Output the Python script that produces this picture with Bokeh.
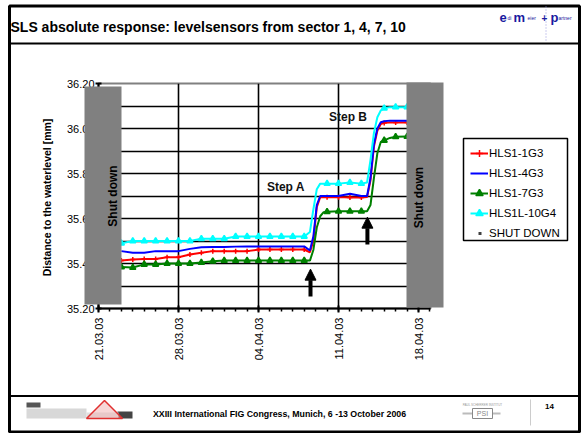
import math
from bokeh.plotting import figure
from bokeh.models import (FixedTicker, Label, Legend, LegendItem, Arrow, NormalHead, Range1d)
from bokeh.embed import file_html
from bokeh.resources import INLINE

# ---------------- data (days since 21.03.03) ----------------
days = [2, 3, 4, 5, 6, 7, 8, 9, 10, 11, 12, 13, 14, 15, 16, 17, 18,
        18.5, 18.8, 19.1, 19.4, 19.7, 20, 21, 22, 23,
        23.5, 23.8, 24.1, 24.4, 24.7, 25, 25.5, 26, 27]

hls1_1g3 = [35.413, 35.418, 35.420, 35.420, 35.428, 35.428, 35.440, 35.448, 35.455, 35.455,
            35.455, 35.455, 35.462, 35.462, 35.462, 35.462, 35.462,
            35.450, 35.500, 35.650, 35.695, 35.695, 35.695, 35.695, 35.693, 35.693,
            35.695, 35.770, 35.920, 35.990, 36.020, 36.025, 36.027, 36.027, 36.027]

hls1_4g3 = [35.455, 35.448, 35.448, 35.455, 35.455, 35.455, 35.465, 35.472, 35.473, 35.473,
            35.475, 35.476, 35.476, 35.476, 35.476, 35.476, 35.476,
            35.458, 35.520, 35.660, 35.700, 35.700, 35.700, 35.700, 35.710, 35.700,
            35.700, 35.780, 35.930, 36.000, 36.028, 36.032, 36.035, 36.035, 36.035]

hls1_7g3 = [35.384, 35.382, 35.396, 35.396, 35.400, 35.400, 35.400, 35.404, 35.410, 35.413,
            35.413, 35.413, 35.413, 35.413, 35.413, 35.413, 35.413,
            35.413, 35.460, 35.560, 35.610, 35.628, 35.630, 35.632, 35.632, 35.632,
            35.632, 35.660, 35.780, 35.890, 35.940, 35.947, 35.958, 35.963, 35.964]

hls1l_10g4 = [35.490, 35.500, 35.500, 35.500, 35.500, 35.500, 35.500, 35.510, 35.510, 35.510,
              35.520, 35.520, 35.520, 35.520, 35.520, 35.520, 35.520,
              35.540, 35.640, 35.730, 35.755, 35.755, 35.755, 35.755, 35.760, 35.755,
              35.760, 35.860, 35.980, 36.050, 36.080, 36.090, 36.095, 36.095, 36.095]

series_names = ["HLS1-1G3", "HLS1-4G3", "HLS1-7G3", "HLS1L-10G4"]

tick_days = [0, 7, 14, 21, 28]
tick_labels = ["21.03.03", "28.03.03", "04.04.03", "11.04.03", "18.04.03"]
minor_days = list(range(0, 30))
y_ticks = [35.2, 35.4, 35.6, 35.8, 36.0, 36.2]
y_tick_labels = ["35.20", "35.40", "35.60", "35.80", "36.00", "36.20"]
y_grid = [35.3, 35.4, 35.5, 35.6, 35.7, 35.8, 35.9, 36.0, 36.1]
x_grid = [7, 14, 21]

# arrows (day, from value, to value) and step labels (day, value, text)
arrows = [(18.55, 35.253, 35.375), (23.53, 35.484, 35.606)]
step_labels = [(16.4, 35.738, "Step A"), (21.83, 36.049, "Step B")]

FONT = "Liberation Sans"
W, H = 583, 433

# ================= chart figure =================
p = figure(frame_width=332, frame_height=225,
           min_border_left=98, min_border_right=153, min_border_top=83, min_border_bottom=125,
           x_range=(0, 29.05), y_range=(35.2, 36.2),
           output_backend="svg", toolbar_location=None)
p.background_fill_color = "white"
p.border_fill_color = "white"
p.outline_line_color = "#808080"
p.outline_line_width = 2

xa = p.xaxis[0]
xa.ticker = FixedTicker(ticks=tick_days, minor_ticks=minor_days)
xa.major_label_overrides = {d: l for d, l in zip(tick_days, tick_labels)}
xa.major_label_orientation = math.pi / 2
xa.major_label_text_font = FONT
xa.major_label_text_font_size = "11px"
xa.major_label_text_color = "black"
xa.axis_line_width = 2
xa.axis_line_color = "black"
xa.major_tick_line_width = 2
xa.major_tick_in = 3
xa.major_tick_out = 4
xa.minor_tick_in = 0
xa.minor_tick_out = 3
xa.minor_tick_line_width = 1.5
xa.minor_tick_line_color = "black"
xa.major_label_standoff = 5

ya = p.yaxis[0]
ya.ticker = FixedTicker(ticks=y_ticks, minor_ticks=[])
ya.major_label_overrides = {t: l for t, l in zip(y_ticks, y_tick_labels)}
ya.major_label_text_font = FONT
ya.major_label_text_font_size = "11px"
ya.major_label_text_color = "black"
ya.axis_line_width = 2
ya.axis_line_color = "black"
ya.major_tick_line_width = 2
ya.major_tick_in = 3
ya.major_tick_out = 3
ya.minor_tick_line_color = None
ya.major_label_standoff = 1
ya.axis_label = "Distance to the waterlevel  [mm]"
ya.axis_label_text_font = FONT
ya.axis_label_text_font_size = "10.5px"
ya.axis_label_text_font_style = "bold"
ya.axis_label_text_color = "black"
ya.axis_label_standoff = 11

p.ygrid.ticker = FixedTicker(ticks=y_grid, minor_ticks=[])
p.ygrid.grid_line_color = "black"
p.ygrid.grid_line_width = 1.6
p.xgrid.ticker = FixedTicker(ticks=x_grid, minor_ticks=[])
p.xgrid.grid_line_color = "black"
p.xgrid.grid_line_width = 1.6

styles = [("#FF0000", "cross", 5), ("#0000FF", None, 0), ("#008000", "triangle", 6), ("#00FFFF", "triangle", 6)]
items = []
for name, vals, (col, mk, ms) in zip(series_names, [hls1_1g3, hls1_4g3, hls1_7g3, hls1l_10g4], styles):
    rl = p.line(days, vals, line_color=col, line_width=2)
    rs = [rl]
    if mk:
        mx = [d for d in days if d == int(d)]
        my = [v for d, v in zip(days, vals) if d == int(d)]
        rm = p.scatter(mx, my, marker=mk, size=ms, line_color=col, fill_color=col, line_width=1.5)
        rs.append(rm)
    items.append(LegendItem(label=name, renderers=rs))

# legend swatch for the shut-down periods: a small dot (no data of its own in the plot)
r_sd = p.line([float("nan")], [float("nan")], line_color="#404040", line_width=3,
              line_dash="0 8 3 20", line_cap="butt")
items.append(LegendItem(label="SHUT DOWN", renderers=[r_sd]))

legend = Legend(items=items, location=(40, 66),
                border_line_color=None, background_fill_alpha=0,
                label_text_font=FONT, label_text_font_size="11.5px", label_text_color="black",
                glyph_width=18, glyph_height=18, label_height=18, spacing=2,
                padding=3, margin=0, label_standoff=1)
p.add_layout(legend, "right")

for d, v, t in step_labels:
    p.add_layout(Label(x=d, y=v, text=t, text_align="center", text_baseline="middle",
                       text_font=FONT, text_font_size="12px", text_font_style="bold",
                       text_color="#111111"))
for d, v0, v1 in arrows:
    p.add_layout(Arrow(x_start=d, y_start=v0, x_end=d, y_end=v1, line_width=4, line_color="black",
                       end=NormalHead(size=11, fill_color="black", line_color="black", line_width=1)))

# ================= slide decoration overlay (pixel coordinates, y down) =================
q = figure(width=W, height=H, min_border=0, x_axis_location=None, y_axis_location=None,
           x_range=Range1d(0, W), y_range=Range1d(H, 0),
           output_backend="svg", toolbar_location=None,
           styles={"position": "absolute", "left": "0px", "top": "0px"})
q.background_fill_color = None
q.border_fill_color = None
q.outline_line_color = None
q.grid.visible = False

def lab(x, y, t, size, style="normal", color="black", align="left", baseline="middle", angle=0.0):
    q.add_layout(Label(x=x, y=y, text=t, text_font=FONT, text_font_size=size, text_font_style=style,
                       text_color=color, text_align=align, text_baseline=baseline, angle=angle))

# shut-down boxes
q.quad(left=[84, 406], right=[121, 443], top=[86, 82], bottom=[304, 307],
       fill_color="#808080", line_color=None)
lab(112, 195.5, "Shut down", "12px", "bold", align="center", angle=math.pi / 2)
lab(418, 197, "Shut down", "12px", "bold", align="center", angle=math.pi / 2)

# legend frame
q.quad(left=[463], right=[567], top=[138], bottom=[240], fill_color=None,
       line_color="black", line_width=1.5)

# slide frame and separators
q.quad(left=[9], right=[579], top=[5.5], bottom=[431.5], fill_color=None,
       line_color="black", line_width=3)
q.segment(x0=[9, 9], y0=[43, 395.5], x1=[579, 579], y1=[43, 395.5], line_color="black", line_width=2)

# title
lab(10, 26, "SLS absolute response: levelsensors from sector 1, 4, 7, 10", "14px", "bold")

# edi meier + partner logo
for lx, t, fs, st in [(499, "e", "13px", "bold"), (507, "di", "5px", "normal"), (513, "m", "13px", "bold"),
                      (527, "eier", "5px", "normal"), (541, "+", "10px", "bold"),
                      (550, "p", "13px", "bold"), (558, "artner", "5px", "normal")]:
    lab(lx, 17, t, fs, st, color="#1a1aa0", baseline="alphabetic")
q.segment(x0=[545.5], y0=[6], x1=[545.5], y1=[40], line_color="#9999dd", line_width=1, line_dash="1 2")

# footer
lab(279, 413, "XXIII International FIG Congress, Munich, 6 -13 October 2006", "8.8px", "bold",
    align="center")
lab(549, 406, "14", "8px", "bold", align="center")
q.segment(x0=[530], y0=[399], x1=[530], y1=[425], line_color="#cccccc", line_width=1)
# left footer logo
q.quad(left=[26, 26, 117], right=[40, 86, 132], top=[402, 408, 411], bottom=[407, 418, 418],
       fill_color=["#555555", "#d8d8d8", "#444444"], line_color=None)
q.quad(left=[86], right=[118], top=[412], bottom=[418], fill_color="#e0e0e0", line_color=None)
q.patch(x=[86, 104, 122], y=[418, 400, 418], fill_color="#f0b0b0", fill_alpha=0.5,
        line_color="#e03030", line_width=1.5)
# right footer logo (PSI)
q.quad(left=[462], right=[500], top=[412], bottom=[414], fill_color="#bbbbbb", line_color=None)
q.quad(left=[472], right=[492], top=[408], bottom=[418], fill_color="white", line_color="#888888")
lab(482, 413, "PSI", "7px", color="#888888", align="center")
lab(482, 404, "PAUL SCHERRER INSTITUT", "3px", color="#999999", align="center")

open("out.html", "w").write(file_html([p, q], INLINE))
